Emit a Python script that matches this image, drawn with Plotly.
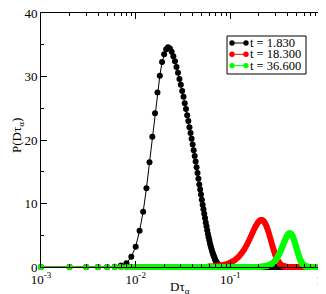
import plotly.graph_objects as go

# ---- data ----
# sampling grid of D*tau_alpha (step 0.001 from 0.001 to 1.000)
grid_x = [round(0.001 * k, 3) for k in range(1, 1001)]

# t = 1.830 : values on the grid for x = 0.001 ... 0.082 (zero afterwards)
black_head = [0, 0, 0, 0, 0, 0.05, 0.25, 0.6, 1.6, 3.2,
              5.7, 8.7, 12.4, 16.5, 20.5, 24.2, 27.5, 30.1, 32.3, 33.5,
              34.3, 34.6, 34.4, 33.9, 33.2, 32.4, 31.5, 30.6, 29.6, 28.7,
              27.7, 26.8, 25.8, 24.9, 23.9, 23.0, 22.0, 21.1, 20.2, 19.3,
              18.4, 17.5, 16.6, 15.7, 14.8, 13.9, 13.0, 12.2, 11.4, 10.6,
              9.8, 9.1, 8.4, 7.7, 7.0, 6.4, 5.8, 5.2, 4.7, 4.2,
              3.7, 3.3, 2.9, 2.55, 2.25, 1.95, 1.7, 1.45, 1.2, 1.0,
              0.8, 0.65, 0.5, 0.4, 0.3, 0.22, 0.16, 0.11, 0.07, 0.04,
              0.02, 0.01]

# t = 18.300 : x = 0.060 ... 0.450 step 0.005 (zero elsewhere)
red_start, red_step = 0.060, 0.005
red_main = [0.10, 0.13, 0.17, 0.22, 0.28, 0.36, 0.45, 0.56, 0.70,
            0.86, 1.04, 1.25, 1.50, 1.77, 2.07, 2.40, 2.76, 3.15, 3.55,
            3.97, 4.40, 4.83, 5.26, 5.67, 6.05, 6.40, 6.71, 6.97, 7.17,
            7.31, 7.39, 7.40, 7.33, 7.21, 7.02, 6.77, 6.47, 6.12, 5.75,
            5.34, 4.92, 4.49, 4.06, 3.64, 3.23, 2.84, 2.47, 2.13, 1.83,
            1.55, 1.30, 1.08, 0.89, 0.73, 0.59, 0.47, 0.38, 0.30, 0.23,
            0.18, 0.14, 0.10, 0.08, 0.06, 0.04, 0.03, 0.02, 0.02, 0.01,
            0.01, 0.01, 0.00, 0.00, 0.00, 0.00, 0.00, 0.00, 0.00, 0.00]

# t = 36.600 : x = 0.200 ... 0.700 step 0.005 (zero elsewhere)
green_start, green_step = 0.200, 0.005
green_main = [0.03, 0.04, 0.05, 0.06, 0.07, 0.09, 0.11, 0.13, 0.16, 0.19,
              0.23, 0.28, 0.33, 0.39, 0.46, 0.53, 0.62, 0.72, 0.83, 0.95,
              1.08, 1.22, 1.38, 1.54, 1.72, 1.91, 2.11, 2.32, 2.54, 2.76,
              2.99, 3.22, 3.44, 3.67, 3.89, 4.11, 4.31, 4.50, 4.68, 4.84,
              4.97, 5.09, 5.18, 5.25, 5.29, 5.30, 5.29, 5.25, 5.18, 5.09,
              4.97, 4.84, 4.68, 4.50, 4.31, 4.11, 3.89, 3.67, 3.44, 3.22,
              2.99, 2.76, 2.54, 2.32, 2.11, 1.91, 1.72, 1.54, 1.38, 1.22,
              1.08, 0.95, 0.83, 0.72, 0.62, 0.53, 0.46, 0.39, 0.33, 0.28,
              0.23, 0.19, 0.16, 0.13, 0.11, 0.09, 0.07, 0.06, 0.05, 0.04,
              0.03, 0.02, 0.02, 0.01, 0.01, 0.01, 0.01, 0.00, 0.00, 0.00,
              0.00]

series_names = ["t = 1.830", "t = 18.300", "t = 36.600"]
series_colors = ["#000000", "#ff0000", "#00ff00"]

x_tickvals = [0.001, 0.01, 0.1, 1.0]
x_ticktext = ["10<sup>-3</sup>", "10<sup>-2</sup>", "10<sup>-1</sup>", "10<sup>0</sup>"]
x_minor = [m * d for d in [0.001, 0.01, 0.1] for m in range(2, 10)]
y_tickvals = [0, 10, 20, 30, 40]
y_minor = [5, 15, 25, 35]


def build(start, step, main):
    mx = [round(start + step * i, 3) for i in range(len(main))]
    lo = [x for x in grid_x if x < mx[0] - 1e-9]
    hi = [x for x in grid_x if x > mx[-1] + 1e-9]
    return lo + mx + hi, [0.0] * len(lo) + main + [0.0] * len(hi)


black_y = black_head + [0.0] * (len(grid_x) - len(black_head))
red_x, red_y = build(red_start, red_step, red_main)
green_x, green_y = build(green_start, green_step, green_main)

FONT = "Liberation Serif"
W, H = 326, 294
ML, MR, MT, MB = 33, 9, 5, 35
PW, PH = W - ML - MR, H - MT - MB


def px(x):
    return (x - ML) / PW


def py(y):
    return (H - MB - y) / PH


fig = go.Figure()
for (xs, ys), name, col in zip([(grid_x, black_y), (red_x, red_y), (green_x, green_y)],
                               series_names, series_colors):
    fig.add_trace(go.Scatter(x=xs, y=ys, mode="lines+markers", name=name,
                             line=dict(color=col, width=1),
                             marker=dict(color=col, size=6),
                             cliponaxis=False, showlegend=False))

axis_common = dict(showline=True, linecolor="black", linewidth=1, mirror="allticks",
                   ticks="inside", ticklen=6, tickwidth=1, tickcolor="black",
                   showgrid=False, zeroline=False, ticklabeloverflow="allow",
                   tickfont=dict(family=FONT, size=13, color="#000000"))

fig.update_xaxes(type="log", range=[-3, 0], tickmode="array", tickvals=x_tickvals,
                 ticktext=x_ticktext,
                 minor=dict(ticks="inside", ticklen=3, tickcolor="black", tickwidth=1,
                            tickmode="array", tickvals=x_minor, showgrid=False),
                 **axis_common)
fig.update_yaxes(range=[0, 40], tickmode="array", tickvals=y_tickvals,
                 minor=dict(ticks="inside", ticklen=3, tickcolor="black", tickwidth=1,
                            tickmode="array", tickvals=y_minor, showgrid=False),
                 **axis_common)

shapes = []
annotations = []
# legend box
shapes.append(dict(type="rect", xref="paper", yref="paper",
                   x0=px(219), x1=px(298), y0=py(66), y1=py(28),
                   line=dict(color="black", width=1), fillcolor="white", layer="above"))
rows = [35, 46.3, 57.6]
for ry, name, col in zip(rows, series_names, series_colors):
    shapes.append(dict(type="line", xref="paper", yref="paper",
                       x0=px(224), x1=px(238), y0=py(ry), y1=py(ry),
                       line=dict(color=col, width=1), layer="above"))
    for cx in (224, 238):
        shapes.append(dict(type="circle", xref="paper", yref="paper",
                           xsizemode="pixel", ysizemode="pixel",
                           xanchor=px(cx), yanchor=py(ry),
                           x0=-2.7, x1=2.7, y0=-2.7, y1=2.7,
                           line=dict(color=col, width=0), fillcolor=col, layer="above"))
    annotations.append(dict(xref="paper", yref="paper", x=px(240), y=py(ry),
                            xanchor="left", yanchor="middle", text=name, showarrow=False,
                            font=dict(family=FONT, size=12.5, color="#000000")))

annotations.append(dict(xref="paper", yref="paper", x=px(172), y=py(279),
                        xanchor="center", yanchor="middle", text="Dτ<sub>α</sub>",
                        showarrow=False, font=dict(family=FONT, size=13, color="#000000")))
annotations.append(dict(xref="paper", yref="paper", x=px(9), y=py(128),
                        xanchor="center", yanchor="middle", text="P(Dτ<sub>α</sub>)",
                        textangle=-90, showarrow=False,
                        font=dict(family=FONT, size=13, color="#000000")))

fig.update_layout(template="none", width=W, height=H,
                  margin=dict(l=ML, r=MR, t=MT, b=MB),
                  paper_bgcolor="white", plot_bgcolor="white",
                  font=dict(family=FONT, color="#000000"),
                  shapes=shapes, annotations=annotations, showlegend=False)

fig.write_html("out.html")
